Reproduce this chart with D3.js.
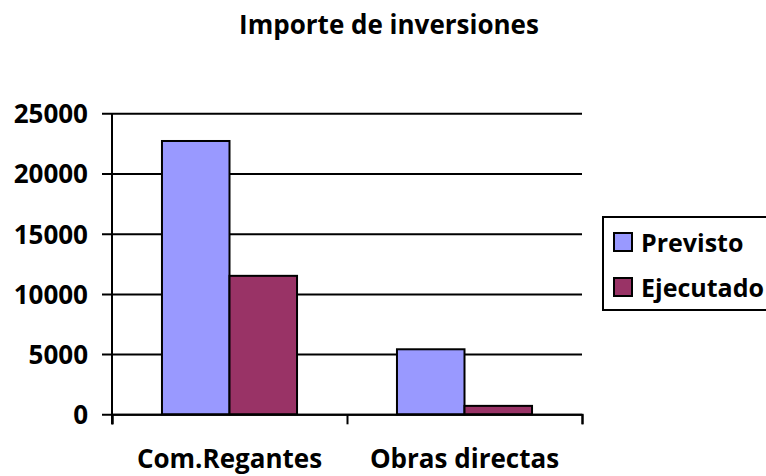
<!DOCTYPE html>
<html>
<head>
<meta charset="utf-8">
<script src="https://cdn.jsdelivr.net/npm/d3@7"></script>
<style>
  html, body { margin: 0; padding: 0; background: #ffffff; }
  svg { display: block; }
  text { font-family: "Open Sans", Lato, sans-serif; font-weight: bold; fill: #000; }
</style>
</head>
<body>
<svg id="chart" width="766" height="476"></svg>
<script>
// Inversiones por tipo de actuación
const categories = ["Com.Regantes", "Obras directas"];
const seriesNames = ["Previsto", "Ejecutado"];
const previsto = [22700, 5400];
const ejecutado = [11500, 700];
const yTicks = [0, 5000, 10000, 15000, 20000, 25000];
const colors = ["#9999FF", "#993366"];

const seriesValues = [previsto, ejecutado];
const FONT = "'Open Sans', Lato, sans-serif";
const FS = "26px";

const svg = d3.select("#chart");
const plot = { left: 112, right: 582, top: 113.3, bottom: 414.3 };

const y = d3.scaleLinear().domain([0, 25000]).range([plot.bottom, plot.top]);
const x0 = d3.scaleBand().domain(categories).range([plot.left, plot.right]).padding(0);
const x1 = d3.scaleBand().domain(seriesNames).range([0, x0.bandwidth()])
  .paddingInner(0).paddingOuter(0.74);

// Title
svg.append("text")
  .attr("x", 389).attr("y", 34)
  .attr("text-anchor", "middle")
  .style("font-size", FS)
  .text("Importe de inversiones");

// Gridlines + y tick labels (axis placed at the right edge so ticks span the plot)
const yAxis = svg.append("g")
  .attr("transform", `translate(${plot.right},0)`)
  .call(d3.axisLeft(y).tickValues(yTicks).tickSize(plot.right - plot.left + 10)
    .tickPadding(14).tickFormat(d3.format("d")));
yAxis.select(".domain").remove();
yAxis.selectAll(".tick line").attr("stroke", "#000").attr("stroke-width", 2);
yAxis.selectAll(".tick text")
  .style("font-size", FS).style("font-family", FONT)
  .style("font-weight", "bold").attr("fill", "#000")
  .attr("dy", "0.36em");

// Bars
const groups = svg.append("g").selectAll("g")
  .data(categories)
  .join("g")
  .attr("transform", d => `translate(${x0(d)},0)`);

groups.selectAll("rect")
  .data((d, i) => seriesNames.map((s, j) => ({ s, v: seriesValues[j][i], c: colors[j] })))
  .join("rect")
  .attr("x", d => x1(d.s))
  .attr("y", d => y(d.v))
  .attr("width", x1.bandwidth())
  .attr("height", d => y(0) - y(d.v))
  .attr("fill", d => d.c)
  .attr("stroke", "#000")
  .attr("stroke-width", 2);

// Y axis line
svg.append("line")
  .attr("x1", plot.left).attr("x2", plot.left)
  .attr("y1", plot.top).attr("y2", plot.bottom + 10)
  .attr("stroke", "#000").attr("stroke-width", 2);

// X axis boundary ticks
const xEdges = d3.scaleLinear().domain([0, categories.length]).range([plot.left, plot.right]);
const xAxis = svg.append("g")
  .attr("transform", `translate(0,${plot.bottom})`)
  .call(d3.axisBottom(xEdges).tickValues(d3.range(categories.length + 1))
    .tickSize(10).tickFormat(""));
xAxis.select(".domain").attr("stroke", "#000").attr("stroke-width", 2);
xAxis.selectAll(".tick line").attr("stroke", "#000").attr("stroke-width", 2);

// Category labels
const xLabels = svg.append("g")
  .attr("transform", `translate(0,${plot.bottom})`)
  .call(d3.axisBottom(x0).tickSize(0).tickPadding(0));
xLabels.select(".domain").remove();
xLabels.selectAll(".tick text")
  .style("font-size", FS).style("font-family", FONT)
  .style("font-weight", "bold").attr("fill", "#000")
  .attr("dy", null).attr("y", 54);

// Legend
const legend = svg.append("g");
legend.append("rect")
  .attr("x", 603).attr("y", 217).attr("width", 180).attr("height", 93)
  .attr("fill", "#fff").attr("stroke", "#000").attr("stroke-width", 2);
const items = legend.selectAll("g.item")
  .data(seriesNames)
  .join("g")
  .attr("class", "item")
  .attr("transform", (d, i) => `translate(0,${i * 45})`);
items.append("rect")
  .attr("x", 614).attr("y", 233).attr("width", 18).attr("height", 18)
  .attr("fill", (d, i) => colors[i])
  .attr("stroke", "#000").attr("stroke-width", 2);
items.append("text")
  .attr("x", 641).attr("y", 252)
  .style("font-size", "25px")
  .text(d => d);
</script>
</body>
</html>
